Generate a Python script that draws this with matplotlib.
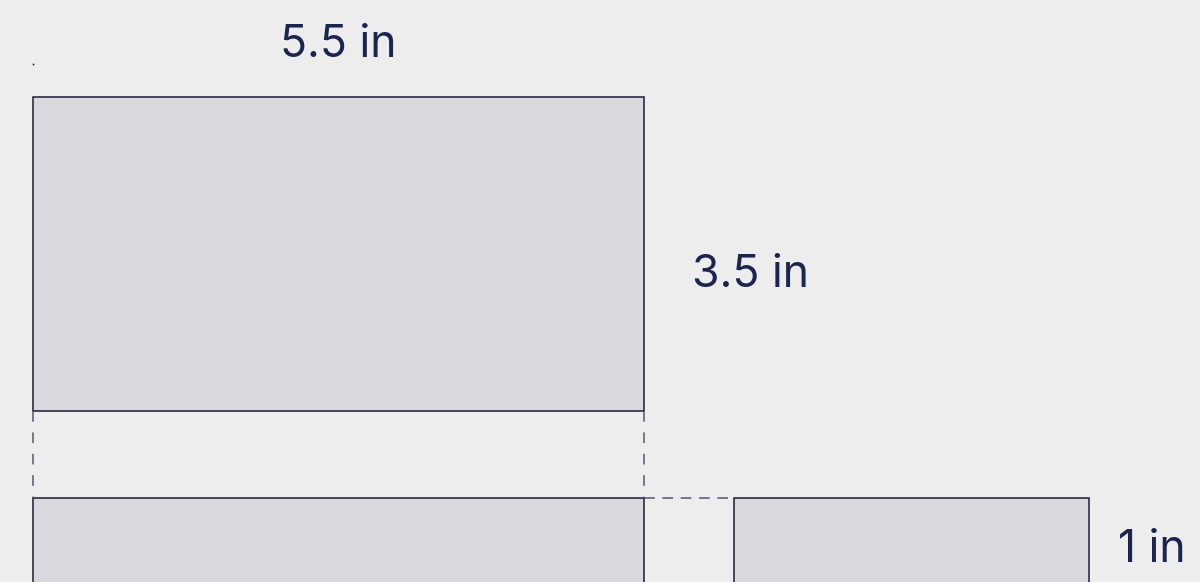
import matplotlib
matplotlib.use("Agg")
import matplotlib.pyplot as plt
from matplotlib.patches import Rectangle

# box dimensions (inches) and their labels
length, width, depth = 5.5, 3.5, 1.0
dim_labels = [f"{length:g} in", f"{width:g} in", f"{depth:g} in"]

# layout of the net (canvas units = pixels)
left, top = 32.5, 97
panel_w, panel_h = 611, 314
gap = 86.5
flap_x, flap_w = 734, 355

bg = "#ededed"
fill = "#d8d9dd"
edge = "#1a1c38"
dash_col = "#55586e"
text_col = "#1b2550"

fig = plt.figure(figsize=(12, 5.82), dpi=100, facecolor=bg)
ax = fig.add_axes([0, 0, 1, 1])
ax.set_facecolor(bg)
ax.set_xlim(0, 1200)
ax.set_ylim(582, 0)
ax.axis("off")

# top panel
ax.add_patch(Rectangle((left, top), panel_w, panel_h, facecolor=fill, edgecolor=edge, lw=1.1))
# bottom panel (runs off the canvas)
y2 = top + panel_h + gap
ax.add_patch(Rectangle((left, y2), panel_w, 200, facecolor=fill, edgecolor=edge, lw=1.1))
# side flap
ax.add_patch(Rectangle((flap_x, y2 + 0.7), flap_w, 200, facecolor=fill, edgecolor=edge, lw=1.1))

# fold guides
dash = (0, (7, 7))
for x in (left, left + panel_w):
    ax.plot([x, x], [top + panel_h, y2], color=dash_col, lw=1.1, linestyle=dash)
ax.plot([left + panel_w, flap_x], [y2, y2], color=dash_col, lw=1.1, linestyle=(0, (7, 5)))

# stray origin mark
ax.plot([left], [64], marker="s", ms=1.2, color=edge, mew=0)

font = dict(family=["Inter", "DejaVu Sans"], fontsize=32, color=text_col)
ax.text(left + panel_w / 2, 57, dim_labels[0], ha="center", va="baseline", **font)
ax.text(692, 287, dim_labels[1], ha="left", va="baseline", **font)
ax.text(1118, 562, dim_labels[2], ha="left", va="baseline", **font)

fig.savefig("out.png", dpi=100, facecolor=bg)
